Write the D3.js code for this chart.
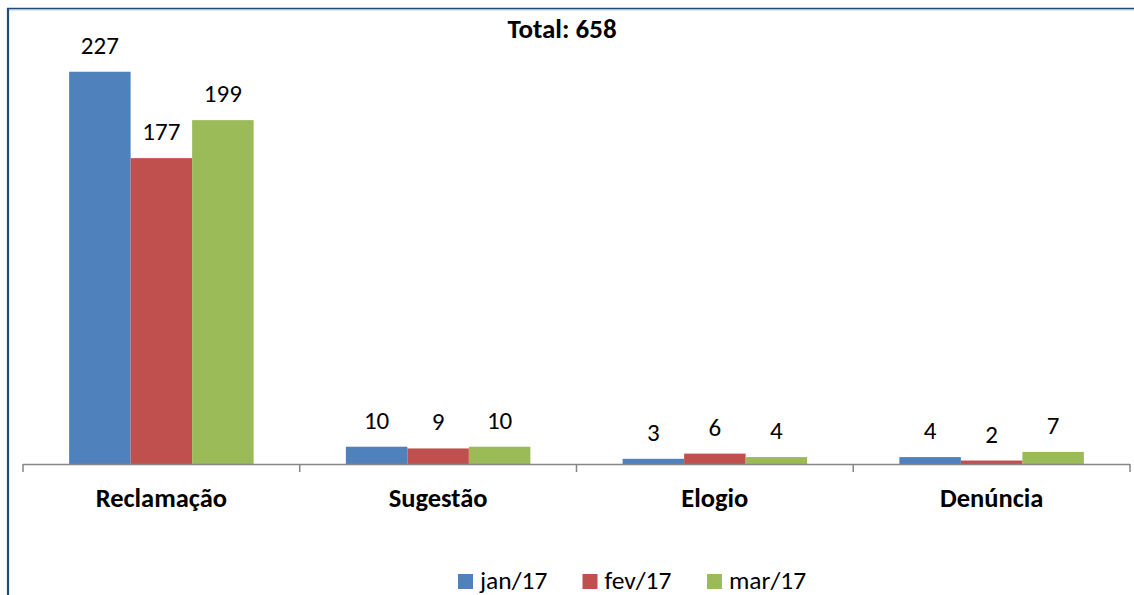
<!DOCTYPE html>
<html>
<head>
<meta charset="utf-8">
<script src="https://cdn.jsdelivr.net/npm/d3@7"></script>
<style>
  html, body { margin: 0; padding: 0; background: #fff; }
  svg { display: block; font-family: Carlito, Calibri, Lato, sans-serif; }
</style>
</head>
<body>
<svg id="chart" width="1134" height="595"></svg>
<script>
// chart data
const categories = ['Reclamação', 'Sugestão', 'Elogio', 'Denúncia'];
const seriesNames = ['jan/17', 'fev/17', 'mar/17'];
const jan17 = [227, 10, 3, 4];
const fev17 = [177, 9, 6, 2];
const mar17 = [199, 10, 4, 7];
const titleText = 'Total: 658';

const colors = ['#4F81BD', '#C0504D', '#9BBB59'];
const seriesValues = [jan17, fev17, mar17];

const svg = d3.select('#chart');
const width = +svg.attr('width'), height = +svg.attr('height');

// frame (left + top edges visible in the crop)
svg.append('line').attr('x1', 8).attr('y1', 8).attr('x2', 8).attr('y2', height)
  .attr('stroke', '#1F4E79').attr('stroke-width', 2.2);
svg.append('line').attr('x1', 7).attr('y1', 8.6).attr('x2', width).attr('y2', 8.6)
  .attr('stroke', '#1F4E79').attr('stroke-width', 1.6);
svg.append('line').attr('x1', 9).attr('y1', 10).attr('x2', width).attr('y2', 10)
  .attr('stroke', '#C5D3E6').attr('stroke-width', 1);

const x = d3.scaleBand().domain(categories).range([23, 1130]).paddingInner(0).paddingOuter(0);
const xSub = d3.scaleBand().domain(seriesNames).range([0, x.bandwidth()]).paddingInner(0).paddingOuter(0.75);
const y = d3.scaleLinear().domain([0, 250]).range([464, 32]);

// title
svg.append('text').attr('x', 562).attr('y', 38).attr('text-anchor', 'middle')
  .style('font-size', '27px').style('font-weight', 'bold').text(titleText);

// bars
const groups = svg.selectAll('.grp').data(categories).enter().append('g')
  .attr('class', 'grp').attr('transform', d => `translate(${x(d)},0)`);

seriesNames.forEach((s, si) => {
  groups.append('rect')
    .attr('x', xSub(s))
    .attr('y', (d, ci) => y(seriesValues[si][ci]))
    .attr('width', xSub.bandwidth())
    .attr('height', (d, ci) => y(0) - y(seriesValues[si][ci]))
    .attr('fill', colors[si]);
  groups.append('text')
    .attr('x', xSub(s) + xSub.bandwidth() / 2)
    .attr('y', (d, ci) => y(seriesValues[si][ci]) - 18)
    .attr('text-anchor', 'middle')
    .style('font-size', '25px').style('fill', '#000')
    .text((d, ci) => seriesValues[si][ci]);
});

// axis line + ticks at category boundaries
const axisG = svg.append('g');
axisG.append('line').attr('x1', x.range()[0]).attr('x2', x.range()[1])
  .attr('y1', y(0) + 0.5).attr('y2', y(0) + 0.5)
  .attr('stroke', '#868686').attr('stroke-width', 1.5);
const tickPos = categories.map(c => x(c)).concat([x.range()[1]]);
axisG.selectAll('.tk').data(tickPos).enter().append('line')
  .attr('x1', d => d).attr('x2', d => d)
  .attr('y1', y(0)).attr('y2', y(0) + 8)
  .attr('stroke', '#868686').attr('stroke-width', 1.5);

// category labels
svg.selectAll('.cat').data(categories).enter().append('text')
  .attr('x', d => x(d) + x.bandwidth() / 2).attr('y', 507)
  .attr('text-anchor', 'middle')
  .style('font-size', '26.5px').style('font-weight', 'bold').text(d => d);

// legend
const legend = svg.selectAll('.lg').data(seriesNames).enter().append('g')
  .attr('transform', (d, i) => `translate(${458 + i * 124.5},574)`);
legend.append('rect').attr('width', 15).attr('height', 15).attr('fill', (d, i) => colors[i]);
legend.append('text').attr('x', 22).attr('y', 15)
  .style('font-size', '25.5px').text(d => d);
</script>
</body>
</html>
